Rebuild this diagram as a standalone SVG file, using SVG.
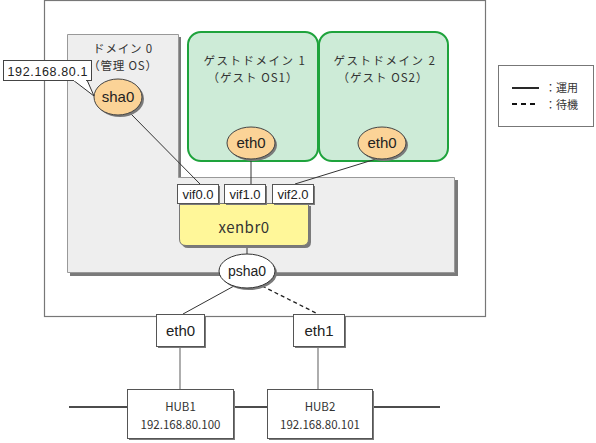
<svg xmlns="http://www.w3.org/2000/svg" width="596" height="443" viewBox="0 0 596 443">
<defs>
<style>
.lat{font-family:"Liberation Sans",Arial,sans-serif;fill:#222}
.jp{font-family:"Noto Sans CJK JP","Noto Sans",sans-serif;fill:#333}
.sh{fill:#7a7a7a}
.wbox{fill:#fff;stroke:#555;stroke-width:1}
.ell{fill:#fbd397;stroke:#444;stroke-width:1}
.grn{fill:#cdebd7;stroke:#1ea33c;stroke-width:2}
.ln{stroke:#333;stroke-width:1;fill:none}
.gl{stroke:#777;stroke-width:1.2;fill:none}
.bl{stroke:#111;stroke-width:1.6;fill:none}
</style>
</defs>
<rect width="596" height="443" fill="#fff"/>
<g id="server">
<rect x="44.5" y="0.5" width="441" height="316" fill="#fff" stroke="#777" stroke-width="1.2"/>
</g>
<g id="domain0">
<polygon points="70,37 181,37 181,180 458,180 458,276 70,276" class="sh"/>
<polygon points="67.5,34.5 178.5,34.5 178.5,177.5 454.5,177.5 454.5,272.5 67.5,272.5" fill="#eeeeee" stroke="#999" stroke-width="1"/>
<text class="jp" x="123" y="53" font-size="11.5" text-anchor="middle" letter-spacing="0.8">ドメイン 0</text>
<text class="jp" x="123" y="70" font-size="11.5" text-anchor="middle" letter-spacing="0.8">（管理 OS）</text>
</g>
<g id="guest1">
<rect x="188" y="32" width="130" height="129" rx="13" class="grn"/>
<text class="jp" x="255" y="65" font-size="11.5" text-anchor="middle" letter-spacing="1.5">ゲストドメイン 1</text>
<text class="jp" x="253" y="82" font-size="11.5" text-anchor="middle" letter-spacing="1">（ゲスト OS1）</text>
</g>
<g id="guest2">
<rect x="319" y="32" width="129" height="129" rx="13" class="grn"/>
<text class="jp" x="385" y="65" font-size="11.5" text-anchor="middle" letter-spacing="1.5">ゲストドメイン 2</text>
<text class="jp" x="383" y="82" font-size="11.5" text-anchor="middle" letter-spacing="1">（ゲスト OS2）</text>
</g>
<g id="connectors">
<line x1="130" y1="113" x2="200" y2="184" class="ln"/>
<line x1="251" y1="159" x2="251" y2="184" class="ln"/>
<line x1="376" y1="159" x2="295" y2="184" class="ln"/>
<line x1="247" y1="245" x2="247" y2="255" class="ln"/>
<line x1="234" y1="286" x2="183" y2="314" class="ln"/>
<line x1="262" y1="286" x2="318" y2="314" stroke="#222" stroke-width="1.3" stroke-dasharray="4,3"/>
<line x1="180" y1="346" x2="180" y2="389" class="gl"/>
<line x1="318" y1="346" x2="318" y2="389" class="gl"/>
<line x1="69" y1="407" x2="127" y2="407" class="bl"/>
<line x1="233" y1="407" x2="267" y2="407" class="bl"/>
<line x1="372" y1="407" x2="440" y2="407" class="bl"/>
</g>
<g id="sha0">
<ellipse cx="120" cy="99" rx="24" ry="18" class="sh"/>
<ellipse cx="118" cy="97" rx="24" ry="18" class="ell"/>
<text class="lat" x="118" y="102" font-size="15" text-anchor="middle">sha0</text>
</g>
<g id="ip-label">
<polygon points="73,80 94,96 87,80" fill="#fff" stroke="#333" stroke-width="1"/>
<rect x="3.5" y="60.5" width="88" height="20" fill="#fff" stroke="#444" stroke-width="1"/>
<line x1="74" y1="80.5" x2="86" y2="80.5" stroke="#fff" stroke-width="1.2"/>
<text class="lat" x="47.5" y="75.5" font-size="12.5" text-anchor="middle" textLength="80" lengthAdjust="spacing">192.168.80.1</text>
</g>
<g id="eth0-g1">
<ellipse cx="253" cy="145" rx="24" ry="16" class="sh"/>
<ellipse cx="251" cy="143" rx="24" ry="16" class="ell"/>
<text class="lat" x="251" y="148" font-size="15" text-anchor="middle">eth0</text>
</g>
<g id="eth0-g2">
<ellipse cx="384" cy="145" rx="24" ry="16" class="sh"/>
<ellipse cx="382" cy="143" rx="24" ry="16" class="ell"/>
<text class="lat" x="382" y="148" font-size="15" text-anchor="middle">eth0</text>
</g>
<g id="xenbr0">
<path d="M182,206 H311 V242 Q311,248 305,248 H188 Q182,248 182,242 Z" class="sh"/>
<path d="M179.5,203.5 H308.5 V239 Q308.5,245.5 302,245.5 H186 Q179.5,245.5 179.5,239 Z" fill="#fff799" stroke="#777" stroke-width="1"/>
<text class="jp" x="244" y="233" font-size="15" text-anchor="middle" letter-spacing="0.5">xenbr0</text>
</g>
<g id="vif0">
<rect x="179" y="186" width="41" height="19" class="sh"/>
<rect x="177.5" y="184.5" width="41" height="19" class="wbox"/>
<text class="lat" x="198" y="199" font-size="13" text-anchor="middle">vif0.0</text>
</g>
<g id="vif1">
<rect x="226" y="186" width="41" height="19" class="sh"/>
<rect x="224.5" y="184.5" width="41" height="19" class="wbox"/>
<text class="lat" x="245" y="199" font-size="13" text-anchor="middle">vif1.0</text>
</g>
<g id="vif2">
<rect x="274" y="186" width="41" height="19" class="sh"/>
<rect x="272.5" y="184.5" width="41" height="19" class="wbox"/>
<text class="lat" x="293" y="199" font-size="13" text-anchor="middle">vif2.0</text>
</g>
<g id="psha0">
<ellipse cx="249" cy="273" rx="28" ry="17" class="sh"/>
<ellipse cx="247" cy="271" rx="28" ry="17" fill="#fff" stroke="#333" stroke-width="1"/>
<text class="lat" x="247" y="276" font-size="14" text-anchor="middle">psha0</text>
</g>
<g id="eth0">
<rect x="158" y="316" width="48" height="32" class="sh"/>
<rect x="156.5" y="314.5" width="48" height="32" class="wbox"/>
<text class="lat" x="180.5" y="336" font-size="15" text-anchor="middle">eth0</text>
</g>
<g id="eth1">
<rect x="295" y="316" width="51" height="32" class="sh"/>
<rect x="293.5" y="314.5" width="51" height="32" class="wbox"/>
<text class="lat" x="319" y="336" font-size="15" text-anchor="middle">eth1</text>
</g>
<g id="hub1">
<rect x="129" y="391" width="106" height="49" class="sh"/>
<rect x="127.5" y="389.5" width="106" height="49" class="wbox"/>
<text class="jp" x="180.5" y="411" font-size="11.5" text-anchor="middle">HUB1</text>
<text class="jp" x="180.5" y="429" font-size="11.5" text-anchor="middle">192.168.80.100</text>
</g>
<g id="hub2">
<rect x="269" y="391" width="105" height="49" class="sh"/>
<rect x="267.5" y="389.5" width="105" height="49" class="wbox"/>
<text class="jp" x="320" y="411" font-size="11.5" text-anchor="middle">HUB2</text>
<text class="jp" x="320" y="429" font-size="11.5" text-anchor="middle">192.168.80.101</text>
</g>
<g id="legend">
<rect x="498.5" y="65.5" width="95" height="61" fill="#fff" stroke="#777" stroke-width="1"/>
<line x1="512" y1="88" x2="539" y2="88" stroke="#111" stroke-width="1.8"/>
<line x1="512" y1="104" x2="539" y2="104" stroke="#111" stroke-width="1.8" stroke-dasharray="5,4"/>
<text class="jp" x="545" y="92" font-size="11">：運用</text>
<text class="jp" x="545" y="108.5" font-size="11">：待機</text>
</g>
</svg>
